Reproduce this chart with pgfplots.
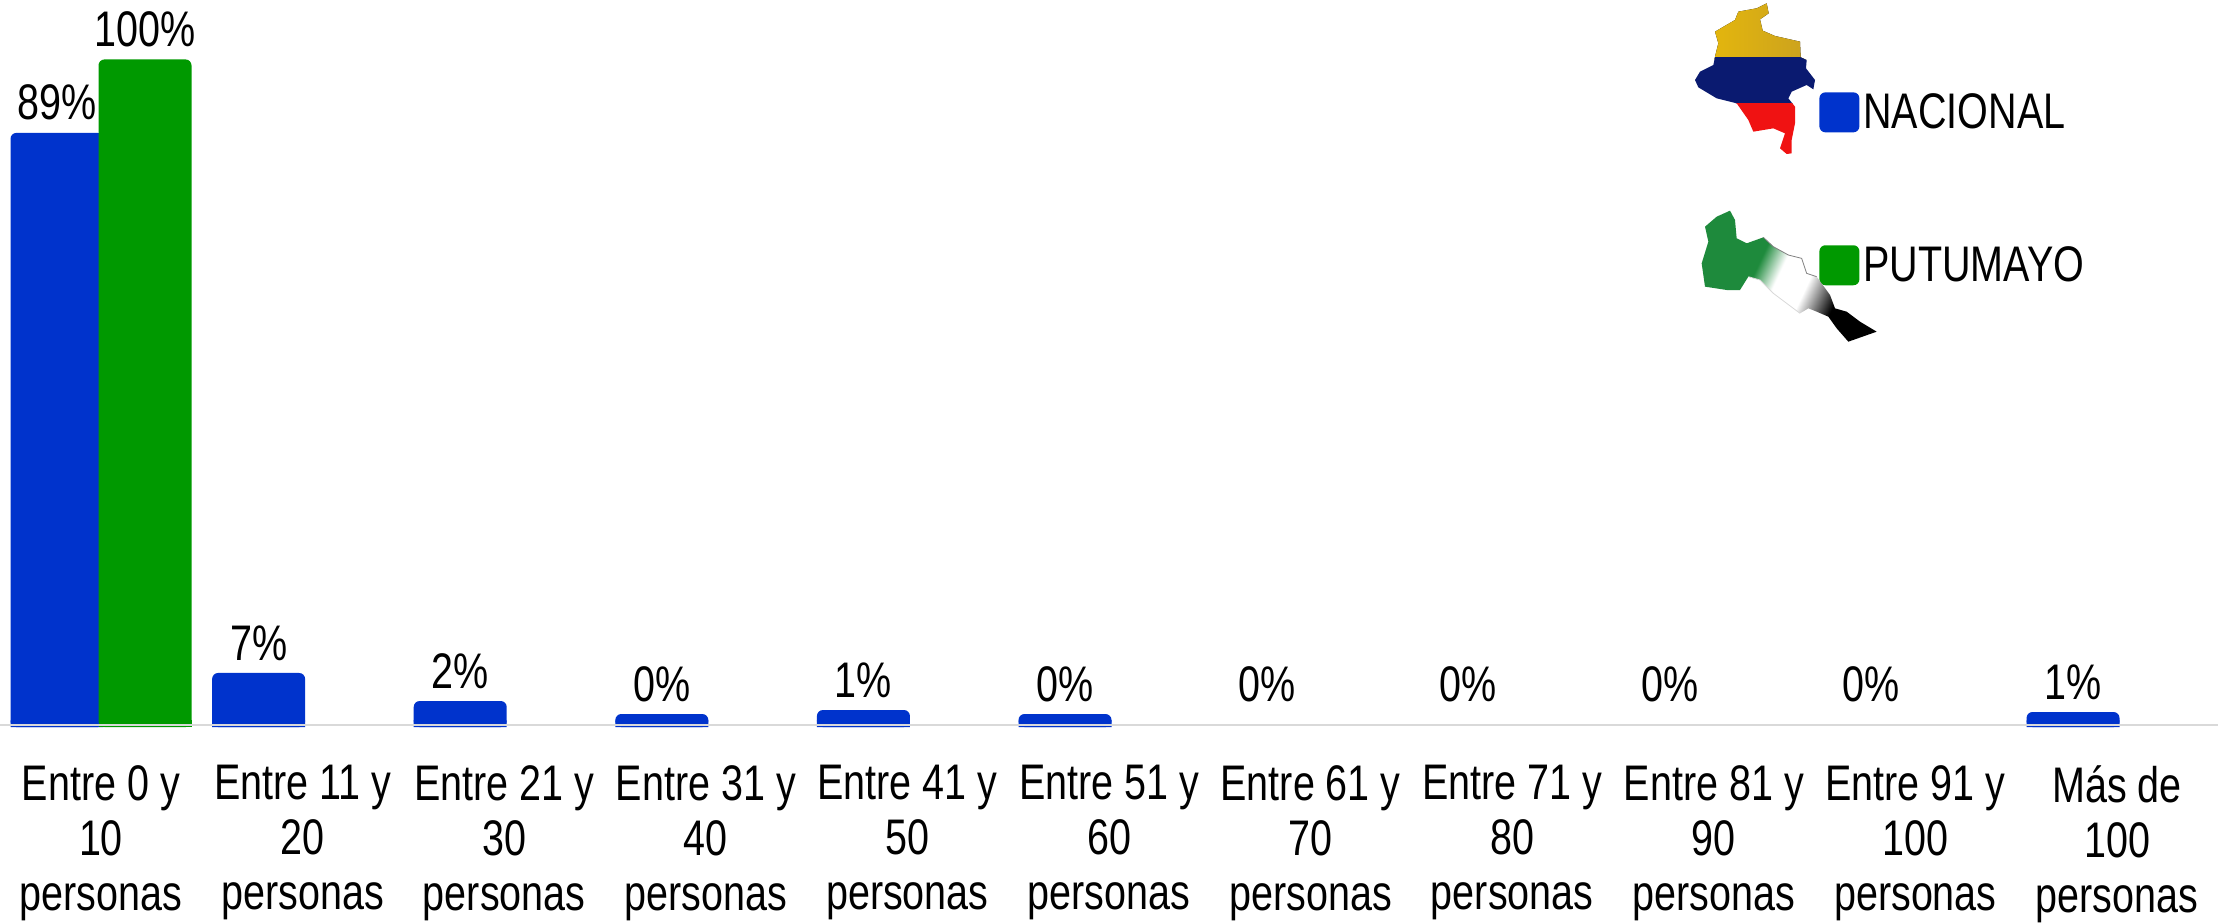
\documentclass[border=0pt]{standalone}
\usepackage{fontspec}
\setmainfont[FakeStretch=0.79]{Liberation Sans}
\usepackage{pgfplots}
\pgfplotsset{compat=1.18}
\usepackage{pgfplotstable}
\definecolor{azul}{HTML}{0033CC}
\definecolor{verde}{HTML}{009900}
\definecolor{verdemapa}{HTML}{1E8A3C}
\definecolor{linea}{HTML}{D9D9D9}
\definecolor{amarillo}{HTML}{E8BA0A}
\definecolor{ocre}{HTML}{C9A020}
\definecolor{azulmapa}{HTML}{0A1A70}
\definecolor{rojomapa}{HTML}{F01212}
\pgfdeclarehorizontalshading{putu}{100bp}{color(0bp)=(verdemapa);color(40bp)=(verdemapa);color(47bp)=(white);color(56bp)=(white);color(66bp)=(black);color(100bp)=(black)}

% alturas; "lab" es la etiqueta impresa
\pgfplotstableread{
c h lab
0 89.0 89
1 8.1 7
2 3.9 2
3 1.95 0
4 2.55 1
5 1.95 0
10 2.25 1
}\nacional
\pgfplotstableread{
c h lab
6 1.95 0
7 1.95 0
8 1.95 0
9 1.95 0
}\nacionalcero
\pgfplotstableread{
c h lab
0 100 100
}\putumayo

\begin{document}
\begin{tikzpicture}
\begin{axis}[
    scale only axis,
    width=1109pt, height=461pt,
    xmin=-0.501, xmax=10.501,
    ymin=-29.2, ymax=108.9,
    clip=false,
    axis x line=middle,
    axis y line=none,
    x axis line style={draw=none},
    xtick={0,1,2,3,4,5,6,7,8,9,10},
    xticklabels={
        {Entre 0 y\\10\\personas},
        {Entre 11 y\\20\\personas},
        {Entre 21 y\\30\\personas},
        {Entre 31 y\\40\\personas},
        {Entre 41 y\\50\\personas},
        {Entre 51 y\\60\\personas},
        {Entre 61 y\\70\\personas},
        {Entre 71 y\\80\\personas},
        {Entre 81 y\\90\\personas},
        {Entre 91 y\\100\\personas},
        {Más de\\100\\personas}},
    major tick length=0pt,
    xticklabel style={align=center, anchor=north, inner sep=0pt, yshift=-19pt,
        font=\fontsize{25}{27.5}\selectfont},
    point meta=explicit symbolic,
    every node near coord/.style={anchor=south, inner sep=0pt, yshift=6pt, text=black,
        font=\fontsize{25}{27.5}\selectfont},
    legend style={at={(1819*0.5pt,461pt-89*0.5pt)}, anchor=north west, draw=none, fill=none,
        inner sep=0pt, row sep=53.5pt, font=\fontsize{25}{27.5}\selectfont,
        cells={anchor=west}},
    legend image code/.code={\fill[#1, rounded corners=3pt] (0pt,-10pt) rectangle (20pt,10pt);},
    legend cell align=left,
]
\addplot[ybar, bar shift=-22pt, bar width=46.5pt, fill=azul, draw=none, rounded corners=3pt,
    nodes near coords={\pgfplotspointmeta\%},
    nodes near coords style={xshift=-22pt}]
    table[x=c, y=h, meta=lab] {\nacional};
\addlegendentry{NACIONAL}
\addplot[ybar, forget plot, bar shift=-22pt, bar width=46.5pt, fill=azul, draw=none]
    coordinates {(0,1) (1,1) (2,1) (3,1) (4,1) (5,1) (10,1)};
\addplot[ybar, forget plot, bar shift=-22pt, bar width=46.5pt, fill=none, draw=none,
    nodes near coords={\pgfplotspointmeta\%},
    nodes near coords style={xshift=-22pt}]
    table[x=c, y=h, meta=lab] {\nacionalcero};
\addplot[ybar, bar shift=22pt, bar width=46.5pt, fill=verde, draw=none, rounded corners=3pt,
    nodes near coords={\pgfplotspointmeta\%},
    nodes near coords style={xshift=22pt}]
    table[x=c, y=h, meta=lab] {\putumayo};
\addlegendentry{PUTUMAYO}
\addplot[ybar, forget plot, bar shift=22pt, bar width=46.5pt, fill=verde, draw=none]
    coordinates {(0,1)};
% linea base
\addplot[forget plot, mark=none, draw=linea, line width=1pt] coordinates {(-0.501,0.3) (10.501,0.3)};
\end{axis}

% mapas (ilustracion)
\begin{scope}[shift={(830pt,461pt)}, x=0.16667pt, y=-0.16667pt]
\begin{scope}
\clip (320,10) -- (326,40) -- (300,58) -- (308,92) -- (345,108) -- (420,125) -- (422,172)
    -- (440,180) -- (438,205) -- (465,240) -- (460,268) -- (440,255) -- (395,275) -- (385,295)
    -- (405,320) -- (405,370) -- (395,420) -- (395,460) -- (380,462) -- (360,445) -- (375,400)
    -- (340,385) -- (280,395) -- (265,360) -- (230,310) -- (170,295) -- (115,262) -- (105,240)
    -- (120,215) -- (160,195) -- (165,170) -- (175,130) -- (165,95) -- (225,60) -- (235,35)
    -- (290,25) -- cycle;
\fill[left color=amarillo, right color=ocre] (100,0) rectangle (470,178);
\fill[azulmapa] (100,172) rectangle (470,312);
\fill[rojomapa] (100,308) rectangle (470,470);
\end{scope}
\begin{scope}
\clip (210,632) -- (225,660) -- (230,715) -- (260,730) -- (310,712) -- (340,740) -- (385,765)
    -- (425,775) -- (440,820) -- (470,830) -- (510,885) -- (525,925) -- (560,935) -- (600,965)
    -- (650,995) -- (565,1025) -- (530,985) -- (505,950) -- (470,935) -- (445,925) -- (420,940)
    -- (380,910) -- (340,880) -- (300,840) -- (265,830) -- (240,870) -- (200,870) -- (135,860)
    -- (125,790) -- (145,725) -- (135,680) -- (170,650) -- cycle;
\shade[shading=putu, shading angle=-25] (120,625) rectangle (655,1030);
\end{scope}
\draw[gray, line width=0.4pt] (310,712) -- (340,740) -- (385,765) -- (425,775) -- (440,820) -- (470,830);
\draw[black!15, line width=0.4pt] (265,830) -- (300,840) -- (340,880) -- (380,910) -- (420,940);
\end{scope}
\pgfresetboundingbox
\useasboundingbox (0,0) rectangle (1109pt,461pt);
\end{tikzpicture}
\end{document}
